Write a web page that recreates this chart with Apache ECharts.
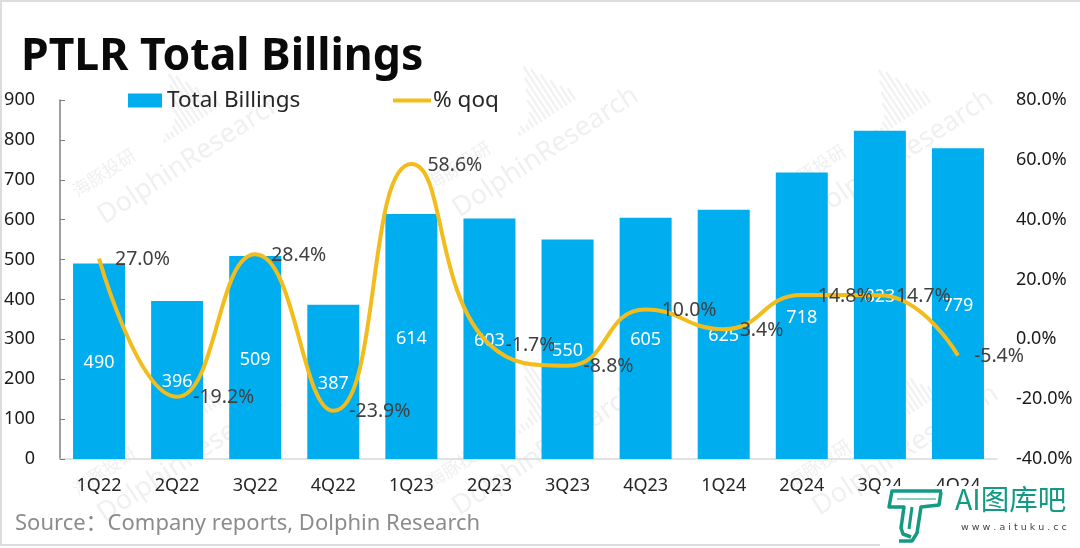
<!DOCTYPE html>
<html>
<head>
<meta charset="utf-8">
<title>PTLR Total Billings</title>
<script src="https://cdn.jsdelivr.net/npm/echarts@6/dist/echarts.min.js"></script>
<style>
  html, body { margin: 0; padding: 0; background: #fff; }
  #main { width: 1080px; height: 548px; }
</style>
</head>
<body>
<div id="main"></div>
<script>
var quarters = ['1Q22', '2Q22', '3Q22', '4Q22', '1Q23', '2Q23', '3Q23', '4Q23', '1Q24', '2Q24', '3Q24', '4Q24'];
var billings = [490, 396, 509, 387, 614, 603, 550, 605, 625, 718, 823, 779];
var qoq = [27.0, -19.2, 28.4, -23.9, 58.6, -1.7, -8.8, 10.0, 3.4, 14.8, 14.7, -5.4];

var FONT = '"Noto Sans", "Open Sans", sans-serif';
var LOGO = '#149a84';

// watermark: small bar icon + two lines of rotated text
function watermark(x, y) {
    var heights = [4, 8, 6, 10, 15, 26, 36, 46, 56, 50, 40, 30, 20, 14];
    var kids = [{
        type: 'text', x: 0, y: 0,
        style: { text: 'DolphinResearch', font: '27px ' + FONT, fill: '#f0f0f0' }
    }, {
        type: 'text', x: -8, y: -32,
        style: { text: '海豚投研', font: '18px "Noto Sans CJK SC"', fill: '#f0f0f0' }
    }];
    heights.forEach(function (h, i) {
        kids.push({
            type: 'rect',
            shape: { x: 95 + i * 5, y: -14 - h, width: 2.5, height: h },
            style: { fill: '#f2f2f2' }
        });
    });
    return { type: 'group', x: x, y: y, rotation: 0.58, z: 0, silent: true, children: kids };
}

function logoStroke(points, width) {
    return {
        type: 'polyline', z: 21, silent: true,
        shape: { points: points },
        style: { stroke: LOGO, lineWidth: width, fill: 'none', lineJoin: 'round' }
    };
}

var chart = echarts.init(document.getElementById('main'));
chart.setOption({
    animation: false,
    backgroundColor: '#fff',
    textStyle: { fontFamily: FONT },
    title: {
        text: 'PTLR Total Billings',
        left: 16, top: 30,
        textStyle: { fontSize: 44.5, fontWeight: 'bold', color: '#0a0a0a', fontFamily: FONT }
    },
    legend: [{
        data: ['Total Billings'],
        icon: 'rect',
        left: 123, top: 84,
        itemWidth: 34, itemHeight: 14,
        textStyle: { fontSize: 22.5, color: '#262626', fontFamily: FONT, padding: [0, 0, 0, 0] }
    }, {
        data: ['% qoq'],
        left: 386, top: 84,
        itemWidth: 38, itemHeight: 14,
        itemStyle: { opacity: 0 },
        lineStyle: { width: 4 },
        textStyle: { fontSize: 22.5, color: '#262626', fontFamily: FONT, padding: [0, 0, 0, -3] }
    }],
    grid: { left: 60, right: 83, top: 100, bottom: 89 },
    xAxis: {
        type: 'category',
        data: quarters,
        axisLine: { lineStyle: { color: '#d9d9d9', width: 1.5 } },
        axisTick: { show: false },
        axisLabel: { fontSize: 18, color: '#262626', margin: 18 }
    },
    yAxis: [{
        type: 'value',
        min: 0, max: 900, interval: 100,
        axisLine: { show: true, lineStyle: { color: '#7f7f7f', width: 1.5 } },
        axisTick: { show: true, inside: true, length: 5, lineStyle: { color: '#7f7f7f' } },
        splitLine: { show: false },
        axisLabel: { fontSize: 18, color: '#1a1a1a', margin: 25 }
    }, {
        type: 'value',
        min: -40, max: 80, interval: 20,
        axisLine: { show: false },
        axisTick: { show: false },
        splitLine: { show: false },
        axisLabel: {
            fontSize: 18, color: '#1a1a1a', margin: 19, align: 'left',
            formatter: function (v) { return v.toFixed(1) + '%'; }
        }
    }],
    series: [{
        name: 'Total Billings',
        type: 'bar',
        data: billings,
        barWidth: 52,
        itemStyle: { color: '#00aeef' },
        label: {
            show: true, position: 'inside', offset: [0, 2],
            fontSize: 18, color: '#fff'
        }
    }, {
        name: '% qoq',
        type: 'line',
        yAxisIndex: 1,
        data: qoq,
        smooth: 0.5,
        symbol: 'circle',
        symbolSize: 0,
        showSymbol: true,
        lineStyle: { color: '#f2bc1c', width: 4 },
        itemStyle: { color: '#f2bc1c' },
        label: {
            show: true, position: 'right', distance: 16, offset: [0, 1],
            fontSize: 19.5, color: '#404040',
            formatter: function (p) { return p.value.toFixed(1) + '%'; }
        }
    }],
    graphic: [
        watermark(93, 207),
        watermark(448, 200),
        watermark(803, 203),
        watermark(93, 505),
        watermark(448, 498),
        watermark(808, 498),
        {
            type: 'rect', z: 0, silent: true,
            shape: { x: 1, y: 1, width: 1200, height: 544 },
            style: { fill: 'none', stroke: '#dcdcdc', lineWidth: 2 }
        },
        {
            type: 'text', x: 15, y: 513, z: 5,
            style: { text: 'Source：Company reports, Dolphin Research', font: '22px "Noto Sans", "Noto Sans CJK SC"', fill: '#8c8c8c' }
        },
        // logo block in the lower right corner
        {
            type: 'rect', z: 20, silent: true,
            shape: { x: 880, y: 486, width: 200, height: 62 },
            style: { fill: '#fff' }
        },
        logoStroke([[942, 491], [892, 491], [889, 507], [904, 507], [901, 528], [903, 534], [911, 537]], 3.5),
        logoStroke([[941, 492], [939, 505], [921, 507], [917, 533], [912, 541], [899, 541]], 3.5),
        logoStroke([[912, 507], [909, 529]], 3),
        logoStroke([[897, 499], [936, 499]], 1),
        {
            type: 'text', x: 955, y: 485, z: 21,
            style: { text: 'AI图库吧', font: '28.5px "Noto Sans CJK SC"', fill: LOGO }
        },
        {
            type: 'text', x: 961, y: 523, z: 21,
            style: { text: 'w w w . a i t u k u . c c', font: '9.5px "DejaVu Sans"', fill: '#444' }
        }
    ]
});
</script>
</body>
</html>
